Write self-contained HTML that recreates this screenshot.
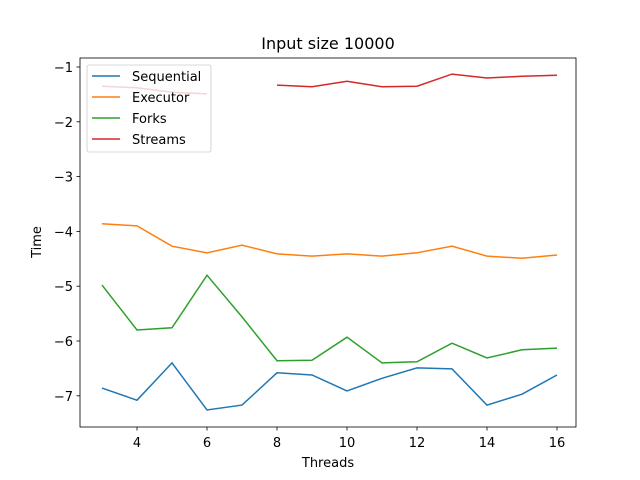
<!DOCTYPE html>
<html><head><meta charset="utf-8"><style>body{margin:0;background:#fff}svg{display:block;font-family:"DejaVu Sans","Liberation Sans",sans-serif}</style></head>
<body>
<svg id="chart" width="640" height="480" viewBox="0 0 640 480"></svg>
<script>
const threads=[3,4,5,6,7,8,9,10,11,12,13,14,15,16];
const sequential=[-6.86,-7.08,-6.40,-7.26,-7.17,-6.58,-6.62,-6.91,-6.68,-6.49,-6.51,-7.17,-6.97,-6.62];
const executor=[-3.86,-3.90,-4.27,-4.39,-4.25,-4.41,-4.45,-4.41,-4.45,-4.39,-4.27,-4.45,-4.49,-4.43];
const forks=[-4.98,-5.80,-5.76,-4.80,-5.56,-6.36,-6.35,-5.93,-6.40,-6.38,-6.04,-6.31,-6.16,-6.13];
const streams=[-1.35,-1.38,-1.46,-1.49,null,-1.33,-1.36,-1.26,-1.36,-1.35,-1.13,-1.20,-1.17,-1.15];
const xTicks=[4,6,8,10,12,14,16];
const yTicks=[-1,-2,-3,-4,-5,-6,-7];
const names=["Sequential","Executor","Forks","Streams"];
const colors=["#1f77b4","#ff7f0e","#2ca02c","#d62728"];
const L=80,R=576,T=58,B=427;
const X=v=>102+(v-3)*35;
const Y=v=>67+(-1-v)*54.8;
const svg=document.getElementById('chart');
const NS='http://www.w3.org/2000/svg';
function mk(t,a,p){const e=document.createElementNS(NS,t);for(const k in a)e.setAttribute(k,a[k]);(p||svg).appendChild(e);return e;}
const series=[sequential,executor,forks,streams];
series.forEach((s,i)=>{
  let d='',pen=false;
  s.forEach((v,j)=>{if(v===null){pen=false;return;}d+=(pen?'L':'M')+X(threads[j]).toFixed(1)+' '+Y(v).toFixed(1);pen=true;});
  const p=mk('path',{d:d,fill:'none',stroke:colors[i],'stroke-width':1.5});
  
  
});
const frame=mk('rect',{x:L,y:T,width:R-L,height:B-T,fill:'none',stroke:'#000','stroke-width':0.8});


xTicks.forEach(v=>{
  mk('line',{x1:X(v),x2:X(v),y1:B,y2:B+3.5,stroke:'#000','stroke-width':0.8});
  const t=mk('text',{x:X(v),y:B+20,'font-size':13,'text-anchor':'middle'});t.textContent=v;
  
  
});
yTicks.forEach(v=>{
  mk('line',{x1:L-3.5,x2:L,y1:Y(v),y2:Y(v),stroke:'#000','stroke-width':0.8});
  const t=mk('text',{x:L-7,y:Y(v)+5,'font-size':13,'text-anchor':'end'});t.textContent='\u2212'+(-v);
  
  
});
const ttl=mk('text',{x:328,y:49,'font-size':16,'text-anchor':'middle'});ttl.textContent='Input size 10000';


const xl=mk('text',{x:328,y:467,'font-size':13,'text-anchor':'middle'});xl.textContent='Threads';


const yl=mk('text',{x:0,y:0,'font-size':13,'text-anchor':'middle',transform:'translate(41 242) rotate(-90)'});yl.textContent='Time';


const lg=mk('g',{});


mk('rect',{x:87,y:65,width:124,height:87,rx:2,fill:'#fff','fill-opacity':0.8,stroke:'#ccc','stroke-width':0.8},lg);
names.forEach((n,i)=>{
  const y=76+i*21;
  mk('line',{x1:92,x2:120,y1:y,y2:y,stroke:colors[i],'stroke-width':1.5},lg);
  const t=mk('text',{x:132,y:y+5,'font-size':13},lg);t.textContent=n;
  
  
});
</script>
</body></html>
